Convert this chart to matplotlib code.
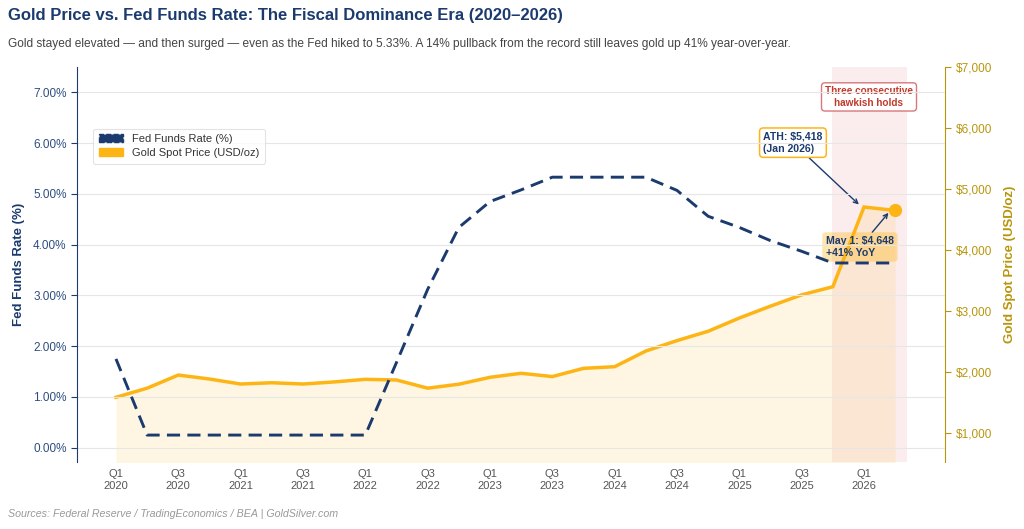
#!/usr/bin/env python3

import numpy as np
import matplotlib.pyplot as plt
import matplotlib.patches as mpatches
from matplotlib.ticker import FuncFormatter, MultipleLocator

# =========================
# DATA (quarterly, Q1 2020 .. Q2 2026)
# =========================
QUARTERS = np.arange(26)

FED_RATE = [1.75, 0.25, 0.25, 0.25, 0.25, 0.25, 0.25, 0.25, 0.25,
            1.68, 3.12, 4.34, 4.85, 5.08, 5.33, 5.33, 5.33, 5.33,
            5.07, 4.56, 4.34, 4.08, 3.87, 3.64, 3.64, 3.64]

GOLD_PRICE = [1585, 1735, 1950, 1885, 1803, 1824, 1803, 1837, 1880,
              1869, 1735, 1800, 1913, 1979, 1925, 2060, 2087, 2344,
              2515, 2668, 2885, 3080, 3265, 3398, 4705, 4648]

TICK_POS = list(range(0, 25, 2))
TICK_LABELS = [f"Q{1 if i % 4 == 0 else 3}\n{2020 + i // 4}" for i in TICK_POS]

HOLD_START = 22.97
HOLD_END = 25.38

NAVY = "#1B3A6E"
GOLD = "#FDB515"
GOLD_DARK = "#B8960C"
RED = "#C0392B"

plt.rcParams["font.family"] = ["Liberation Sans", "DejaVu Sans"]


def main():
    fig = plt.figure(figsize=(10.24, 5.29), dpi=100)
    ax = fig.add_axes([0.0752, 0.1267, 0.8477, 0.7466])
    ax2 = ax.twinx()

    ax.set_zorder(ax2.get_zorder() + 1)
    ax.patch.set_visible(False)

    # hold window
    ax2.axvspan(HOLD_START, HOLD_END, color="#F2C4C8", alpha=0.3, lw=0, zorder=0)

    # gold
    ax2.fill_between(QUARTERS, GOLD_PRICE, 0, color=GOLD, alpha=0.12, lw=0, zorder=1)
    ax2.plot(QUARTERS, GOLD_PRICE, color=GOLD, lw=2.5, zorder=3,
             solid_joinstyle="miter")
    ax2.plot(QUARTERS[-1], GOLD_PRICE[-1], "o", color=GOLD, ms=8.5, zorder=4)

    # fed
    ax.plot(QUARTERS, FED_RATE, color=NAVY, lw=2.1, ls=(0, (4.5, 2.5)), zorder=3)

    ax.set_xlim(-1.25, 26.6)
    ax.set_ylim(-0.28, 7.5)
    ax2.set_ylim(525, 7000)

    ax.yaxis.set_major_locator(MultipleLocator(1))
    ax.yaxis.set_major_formatter(FuncFormatter(lambda v, p: f"{v:.2f}%"))
    ax2.yaxis.set_major_locator(MultipleLocator(1000))
    ax2.yaxis.set_major_formatter(FuncFormatter(lambda v, p: f"${v:,.0f}"))

    ax.set_xticks(TICK_POS)
    ax.set_xticklabels(TICK_LABELS, fontsize=8, color="#555555", linespacing=1.2)
    ax.tick_params(axis="x", length=0, pad=5)
    ax.tick_params(axis="y", colors=NAVY, labelsize=8.5, length=4, width=0.8)
    ax2.tick_params(axis="y", colors=GOLD_DARK, labelsize=8.5, length=4, width=0.8)
    for lbl in ax.get_yticklabels():
        lbl.set_color("#2E4D80")
    ax.grid(axis="y", color="#E6E6E6", lw=0.8)
    ax.set_axisbelow(True)

    for s in ["top", "right", "bottom"]:
        ax.spines[s].set_visible(False)
    for s in ["top", "left", "bottom"]:
        ax2.spines[s].set_visible(False)
    ax.spines["left"].set_color(NAVY)
    ax2.spines["right"].set_color(GOLD_DARK)

    ax.set_ylabel("Fed Funds Rate (%)", color=NAVY, fontsize=9.5,
                  fontweight="bold", labelpad=6)
    ax2.set_ylabel("Gold Spot Price (USD/oz)", color=GOLD_DARK, fontsize=9.5,
                   fontweight="bold", labelpad=9)

    # annotations
    ax2.annotate("ATH: $5,418\n(Jan 2026)", xy=(23.9, 4715), xytext=(21.72, 5760),
                 ha="center", va="center", multialignment="left", linespacing=1.25,
                 fontsize=7.6, fontweight="bold", color=NAVY, zorder=6,
                 bbox=dict(boxstyle="round,pad=0.35", fc="white", ec=GOLD, lw=1.1),
                 arrowprops=dict(arrowstyle="->", color=NAVY, lw=1.0,
                                 shrinkA=0, shrinkB=2))
    ax2.annotate("May 1: $4,648\n+41% YoY", xy=(24.9, 4680), xytext=(23.87, 4050),
                 ha="center", va="center", multialignment="left", linespacing=1.25,
                 fontsize=7.6, fontweight="bold", color=NAVY, zorder=6,
                 bbox=dict(boxstyle="round,pad=0.35", fc=GOLD, ec=GOLD, alpha=0.35, lw=0),
                 arrowprops=dict(arrowstyle="->", color=NAVY, lw=1.0,
                                 shrinkA=0, shrinkB=4))
    ax2.text(24.16, 6510, "Three consecutive\nhawkish holds", ha="center", va="center",
             fontsize=7.2, fontweight="bold", color=RED, zorder=6, linespacing=1.15,
             bbox=dict(boxstyle="round,pad=0.35", fc="white", ec="#D9777A", lw=1.0))

    handles = [
        mpatches.Patch(fc=NAVY, ec=NAVY, ls="--", label="Fed Funds Rate (%)"),
        mpatches.Patch(fc=GOLD, ec=GOLD, label="Gold Spot Price (USD/oz)"),
    ]
    leg = ax.legend(handles=handles, loc="upper left", bbox_to_anchor=(0.012, 0.858),
                    fontsize=8, frameon=True, handlelength=2.2, borderpad=0.5,
                    labelspacing=0.35)
    leg.get_frame().set_edgecolor("#DDDDDD")
    leg.get_frame().set_linewidth(0.8)
    for t in leg.get_texts():
        t.set_color("#333333")

    fig.text(0.008, 0.97, "Gold Price vs. Fed Funds Rate: The Fiscal Dominance Era (2020\u20132026)",
             fontsize=12, fontweight="bold", color=NAVY, va="center")
    fig.text(0.008, 0.917,
             "Gold stayed elevated \u2014 and then surged \u2014 even as the Fed hiked to 5.33%. "
             "A 14% pullback from the record still leaves gold up 41% year-over-year.",
             fontsize=8.6, color="#444444", va="center")
    fig.text(0.008, 0.028, "Sources: Federal Reserve / TradingEconomics / BEA | GoldSilver.com",
             fontsize=7.7, style="italic", color="#999999", va="center")

    fig.savefig("out.png", dpi=100)


if __name__ == "__main__":
    main()
